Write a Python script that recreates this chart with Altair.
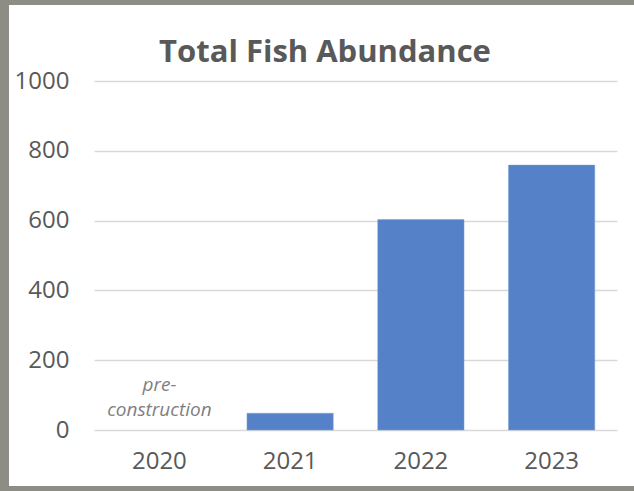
import altair as alt
import pandas as pd

years = ["2020", "2021", "2022", "2023"]
abundance = [None, 48, 603, 759]
title_text = ["Total Fish Abundance"]
note_lines = ["pre-", "construction"]

df = pd.DataFrame({"year": years, "value": abundance})
note_df = pd.DataFrame({"year": [years[0]] * 2, "line": note_lines, "row": [0, 1]})

FONT = "Open Sans"
GREY = "#595959"
BORDER = "#8d8d86"

xscale = alt.Scale(domain=years, paddingInner=0.34, paddingOuter=0.17)
xaxis = alt.Axis(labelAngle=0, labelFont=FONT, labelFontSize=24, labelColor=GREY,
                 labelPadding=19, ticks=False, domain=False, grid=False)

strips = pd.DataFrame({
    "x": [-94, -94, -94], "x2": [-85, 540, 540],
    "y": [-81, -81, 405], "y2": [410, -76, 410],
})
border = alt.Chart(strips).mark_rect(color=BORDER).encode(
    x=alt.X("x:Q", scale=None, axis=None), x2="x2:Q",
    y=alt.Y("y:Q", scale=None, axis=None), y2="y2:Q"
)

bars = alt.Chart(df).mark_bar(color="#5581C9", stroke="#7fa0d8", strokeWidth=0.5).encode(
    x=alt.X("year:N", sort=years, title=None, scale=xscale, axis=xaxis),
    y=alt.Y("value:Q", title=None,
            scale=alt.Scale(domain=[0, 1000], nice=False),
            axis=alt.Axis(values=[0, 200, 400, 600, 800, 1000], format="d", labelFont=FONT,
                          labelFontSize=24, labelColor=GREY, labelPadding=25, ticks=False,
                          domain=False, gridColor="#d9d9d9", gridWidth=1.5)),
)

note = alt.Chart(note_df).mark_text(font=FONT, fontSize=19, fontStyle="italic", color="#7f7f7f").encode(
    x=alt.X("year:N", sort=years, title=None, scale=xscale, axis=xaxis),
    y=alt.Y("row:Q", scale=alt.Scale(domain=[0, 1], range=[304, 329]), axis=None),
    text="line:N",
)

title = alt.Chart(pd.DataFrame({"t": title_text})).mark_text(
    font=FONT, fontSize=31, fontWeight="bold", color=GREY
).encode(x=alt.value(231), y=alt.value(-28), text="t:N")

chart = alt.layer(bars, note, title, border).resolve_scale(y="independent").properties(
    width=523, height=349,
    autosize=alt.AutoSizeParams(type="none"),
    padding={"left": 94, "top": 81, "right": 17, "bottom": 61},
    background="white",
).configure_view(stroke=None)

chart.save("out.html", embed_options={"renderer": "svg", "actions": False})
